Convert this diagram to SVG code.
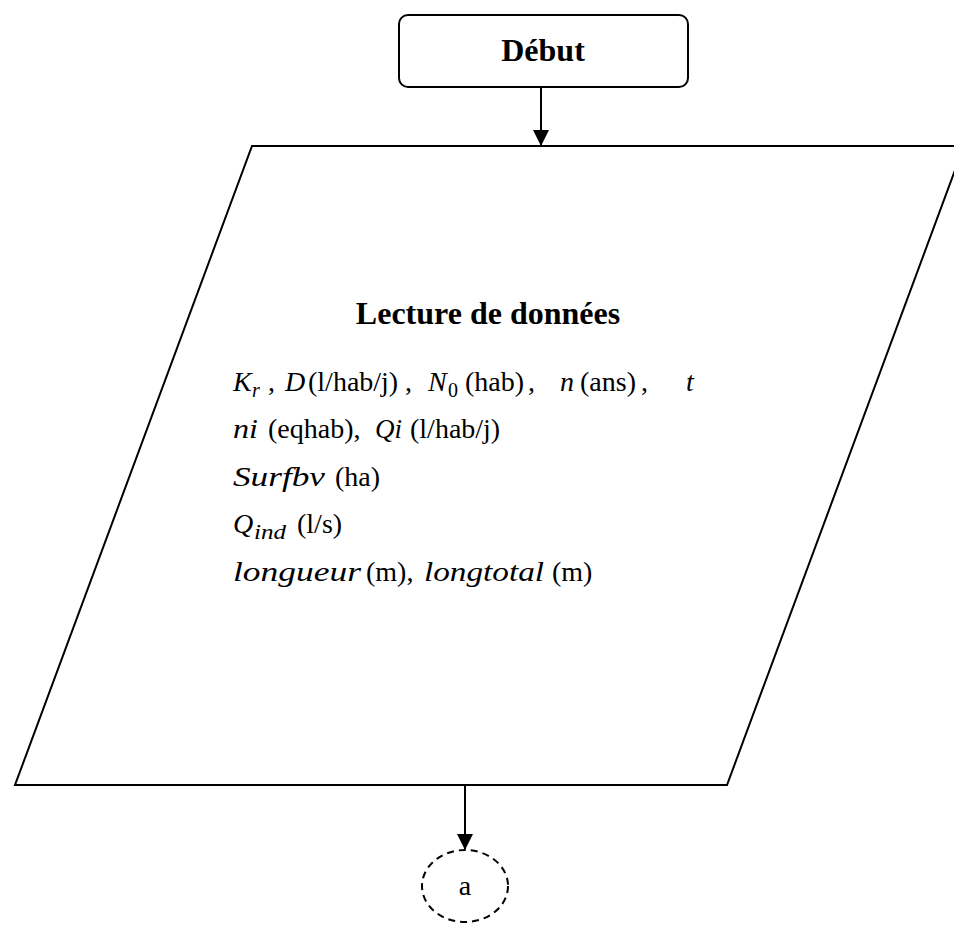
<svg xmlns="http://www.w3.org/2000/svg" width="954" height="932" viewBox="0 0 954 932">
<defs>
<style>
.shape{fill:#fff;stroke:#000;stroke-width:2}
.conn{stroke:#000;stroke-width:2;fill:none}
.t{font-family:"Liberation Serif","Times New Roman",serif;font-size:28px;fill:#000}
.b{font-family:"Liberation Serif","Times New Roman",serif;font-size:32px;font-weight:bold;fill:#000}
.m{font-style:italic;font-family:"Liberation Serif","Times New Roman",serif}
.sub{font-size:20px}
</style>
<marker id="arr" markerWidth="16" markerHeight="18" refX="15" refY="8" orient="auto" markerUnits="userSpaceOnUse" viewBox="0 0 16 16">
<path d="M0,0 L16,8 L0,16 Z" fill="#000"/>
</marker>
</defs>
<rect width="954" height="932" fill="#fff"/>
<g id="debut">
<rect class="shape" x="399" y="15" width="289" height="72" rx="9"/>
<text class="b" x="543" y="61" text-anchor="middle">Début</text>
</g>
<g id="lecture">
<polygon class="shape" points="252,146 964,146 727,785 15,785"/>
<text class="b" x="488" y="324" text-anchor="middle">Lecture de données</text>
<text class="t" y="391"><tspan class="m" x="233">K</tspan><tspan class="m sub" x="252" dy="6">r</tspan><tspan x="268" dy="-6">,</tspan><tspan class="m" x="285">D</tspan><tspan x="308">(l/hab/j)</tspan><tspan x="405">,</tspan><tspan class="m" x="428">N</tspan><tspan class="sub" x="448" dy="6">0</tspan><tspan x="465" dy="-6">(hab)</tspan><tspan x="528">,</tspan><tspan class="m" x="560">n</tspan><tspan x="580">(ans)</tspan><tspan x="641">,</tspan><tspan class="m" x="686">t</tspan></text>
<text class="t" y="438"><tspan class="m" x="233" textLength="25" lengthAdjust="spacingAndGlyphs">ni</tspan><tspan x="268">(eqhab),</tspan><tspan class="m" x="375" textLength="27" lengthAdjust="spacingAndGlyphs">Qi</tspan><tspan x="410">(l/hab/j)</tspan></text>
<text class="t" y="486"><tspan class="m" x="233" textLength="92" lengthAdjust="spacingAndGlyphs">Surfbv</tspan><tspan x="335">(ha)</tspan></text>
<text class="t" y="533"><tspan class="m" x="233">Q</tspan><tspan class="m sub" x="254" dy="6" textLength="32" lengthAdjust="spacingAndGlyphs">ind</tspan><tspan x="297" dy="-6">(l/s)</tspan></text>
<text class="t" y="581"><tspan class="m" x="233" textLength="128" lengthAdjust="spacingAndGlyphs">longueur</tspan><tspan x="366">(m),</tspan><tspan class="m" x="424" textLength="120" lengthAdjust="spacingAndGlyphs">longtotal</tspan><tspan x="552">(m)</tspan></text>
</g>
<g id="a">
<ellipse cx="465" cy="886" rx="43" ry="36" fill="#fff" stroke="#000" stroke-width="2" stroke-dasharray="7,5"/>
<text class="t" x="465" y="895" text-anchor="middle">a</text>
</g>
<g id="connectors">
<line class="conn" x1="541" y1="87" x2="541" y2="145" marker-end="url(#arr)"/>
<line class="conn" x1="465" y1="786" x2="465" y2="849" marker-end="url(#arr)"/>
</g>
</svg>
